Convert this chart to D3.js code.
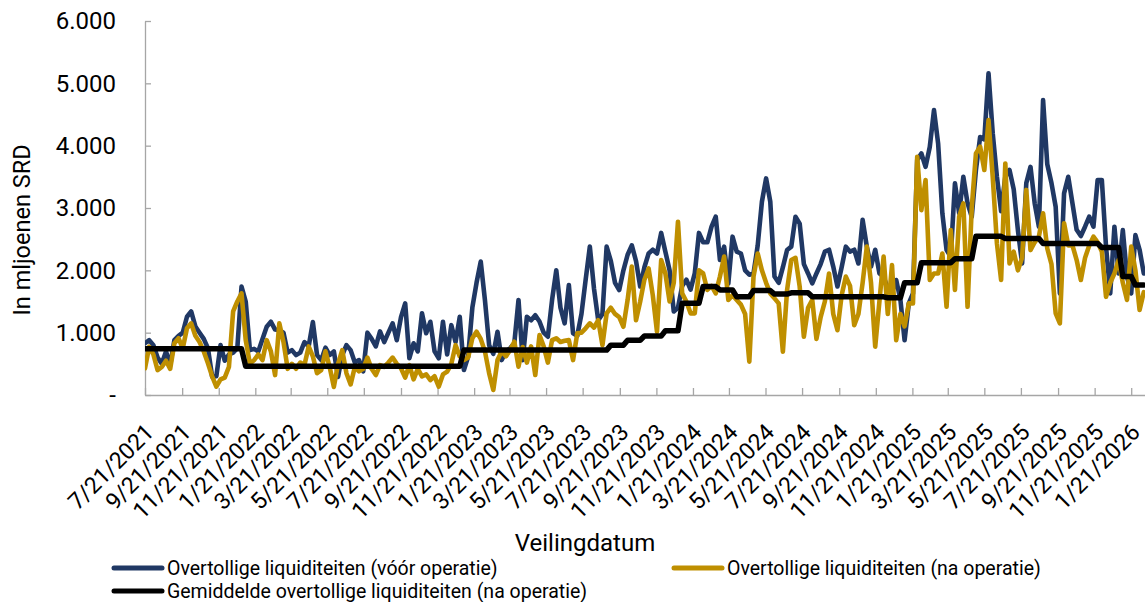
<!DOCTYPE html>
<html>
<head>
<meta charset="utf-8">
<script src="https://cdn.jsdelivr.net/npm/d3@7"></script>
<style>
  body { margin: 0; background: #fff; }
  text { font-family: Roboto, "Noto Sans", sans-serif; fill: #000; }
</style>
</head>
<body>
<div id="chart"></div>
<script>
// auctions are weekly, starting on the first auction date
var firstAuction = "2021-07-21";

// Overtollige liquiditeiten (voor operatie), mln SRD, one value per weekly auction
var before = [
  830, 880, 800, 600, 500, 700, 480, 880, 950, 1000, 1255, 1340, 1100, 1000, 900, 750, 295, 300, 800, 550,
  650, 680, 750, 1740, 1500, 720, 740, 700, 900, 1095, 1175, 1050, 1040, 1000, 680, 720, 640, 680, 850, 780,
  1170, 640, 560, 760, 640, 700, 290, 640, 800, 720, 520, 560, 380, 1000, 900, 780, 1020, 850, 1000, 1150,
  880, 1250, 1470, 590, 830, 700, 1310, 990, 1175, 700, 590, 1175, 650, 1120, 850, 1255, 400, 615, 1400, 1800,
  2140, 1525, 800, 660, 1015, 560, 700, 750, 830, 1525, 560, 1255, 1200, 1280, 1180, 1000, 935, 1525, 2000, 1400,
  1150, 1765, 990, 950, 1300, 1850, 2380, 1700, 1200, 1300, 2380, 2150, 1800, 1685, 2000, 2250, 2400, 2150, 1740, 2050,
  2270, 2330, 2270, 2600, 2300, 2000, 1340, 1400, 1750, 1850, 1690, 1950, 2600, 2450, 2450, 2700, 2860, 2165, 2380, 1790,
  2540, 2300, 2270, 2000, 1930, 1950, 2400, 3100, 3475, 3100, 1900, 1800, 2050, 2325, 2380, 2860, 2750, 2100, 1950, 1790,
  1950, 2100, 2300, 2330, 2060, 1740, 2050, 2380, 2300, 2330, 2110, 2810, 2380, 2060, 2330, 1950, 1900, 1700, 1650, 1845,
  1530, 880, 1470, 1630, 3770, 3875, 3660, 3980, 4570, 4030, 2915, 2325, 2220, 3395, 2915, 3500, 3080, 2860, 3610, 4140,
  4100, 5160, 4200, 3500, 2950, 3500, 3610, 3300, 2645, 2110, 3400, 3660, 3075, 2700, 4730, 3700, 3400, 3020, 1630, 3235,
  3500, 3075, 2650, 2550, 2700, 2860, 2700, 3450, 3450, 2380, 1630, 2700, 1950, 2645, 1900, 1630, 2565, 2330, 1950
];

// Overtollige liquiditeiten (na operatie)
var after = [
  430, 775, 650, 400, 450, 550, 420, 830, 910, 750, 1070, 1150, 950, 850, 700, 510, 300, 135, 250, 280,
  450, 1340, 1500, 1630, 880, 500, 560, 650, 560, 880, 700, 320, 1150, 850, 420, 500, 420, 520, 480, 780,
  620, 350, 400, 700, 450, 130, 500, 720, 350, 170, 450, 380, 420, 600, 420, 320, 480, 450, 520, 600,
  500, 430, 280, 480, 250, 420, 300, 330, 240, 300, 135, 330, 375, 500, 800, 620, 560, 600, 910, 1015,
  900, 700, 350, 80, 560, 700, 620, 720, 855, 455, 770, 520, 780, 320, 960, 780, 520, 880, 910, 850,
  870, 880, 560, 990, 1000, 1070, 1150, 1080, 1200, 800, 1310, 1400, 1300, 1250, 1095, 1525, 2060, 1200, 1500, 1850,
  2030, 1600, 1015, 2165, 1950, 1500, 1800, 2780, 1630, 1500, 1310, 1310, 2000, 1950, 1685, 1750, 1630, 1900, 2220, 1525,
  1600, 1525, 1450, 1300, 535, 1900, 2270, 2000, 1800, 1630, 1550, 1470, 695, 1685, 2165, 2200, 1740, 935, 1400, 1525,
  900, 1250, 1500, 1950, 1300, 1040, 1600, 1900, 1750, 1120, 1300, 1800, 2380, 1800, 775, 1500, 2220, 1300, 2085, 880,
  1300, 1100, 1470, 1470, 3820, 2965, 3450, 1845, 1950, 1950, 2270, 1415, 2645, 1685, 2860, 3075, 1415, 3000, 3875, 3985,
  3610, 4410, 3500, 2435, 1845, 3715, 2110, 2300, 2000, 2200, 3290, 2325, 2450, 2540, 2915, 2350, 2100, 1310, 1150, 2755,
  2400, 2400, 2165, 1845, 2200, 2400, 2540, 2450, 2300, 1575, 1800, 1950, 2165, 1800, 1525, 2380, 2000, 1365, 1650
];

// Gemiddelde overtollige liquiditeiten (na operatie): level and the auction number where it starts
var avgStart = [0, 24, 76, 111, 115, 119, 124, 128, 133, 137, 141, 145, 150, 154, 159, 177, 181, 185, 193, 198, 205, 214, 228, 233, 236];
var avgLevel = [740, 460, 720, 800, 880, 945, 1030, 1470, 1740, 1685, 1575, 1675, 1620, 1640, 1575, 1560, 1800, 2120, 2185, 2545, 2510, 2430, 2365, 1900, 1765];

var tickLabels = ["7/21/2021", "9/21/2021", "11/21/2021", "1/21/2022", "3/21/2022", "5/21/2022", "7/21/2022",
  "9/21/2022", "11/21/2022", "1/21/2023", "3/21/2023", "5/21/2023", "7/21/2023", "9/21/2023", "11/21/2023",
  "1/21/2024", "3/21/2024", "5/21/2024", "7/21/2024", "9/21/2024", "11/21/2024", "1/21/2025", "3/21/2025",
  "5/21/2025", "7/21/2025", "9/21/2025", "11/21/2025", "1/21/2026"];
var yTicks = [0, 1000, 2000, 3000, 4000, 5000, 6000];

var seriesNames = ["Overtollige liquiditeiten (vóór operatie)", "Overtollige liquiditeiten (na operatie)",
  "Gemiddelde overtollige liquiditeiten (na operatie)"];
var seriesColors = ["#203864", "#bf8f00", "#000000"];

// ---------------------------------------------------------------
var parseIso = d3.timeParse("%Y-%m-%d");
var parseLabel = d3.timeParse("%m/%d/%Y");
var start = parseIso(firstAuction);

var rows = before.map(function (v, i) {
  var lvl = avgLevel[0];
  for (var k = 0; k < avgStart.length; k++) { if (i >= avgStart[k]) lvl = avgLevel[k]; }
  return { date: d3.timeDay.offset(start, 7 * i), before: v, after: after[i], avg: lvl };
});

var chart_w = 1145, chart_h = 602;
var plot_l = 145, plot_r = 1145, plot_t = 21, plot_b = 395;

var svg = d3.select("#chart").append("svg").attr("width", chart_w).attr("height", chart_h);

var x = d3.scaleTime().domain([start, parseIso("2026-02-13")]).range([plot_l, plot_r]);
var y = d3.scaleLinear().domain([0, 6000]).range([plot_b, plot_t]);

var nl = d3.formatLocale({ decimal: ",", thousands: ".", grouping: [3], currency: ["", ""] });
var fmt = nl.format(",.0f");

// y axis
var yAxis = svg.append("g").attr("transform", "translate(" + plot_l + ",0)")
  .call(d3.axisLeft(y).tickValues(yTicks).tickSizeInner(-6).tickSizeOuter(0).tickPadding(29)
    .tickFormat(function (d) { return d === 0 ? "-" : fmt(d); }));
yAxis.selectAll("path, line").attr("stroke", "#a6a6a6").attr("stroke-width", 1.3);
yAxis.selectAll("text").style("font-size", "24px").style("font-family", "Roboto").attr("fill", "#000");

// x axis
var xAxis = svg.append("g").attr("transform", "translate(0," + plot_b + ")")
  .call(d3.axisBottom(x).tickValues(tickLabels.map(function (s) { return parseLabel(s); }))
    .tickSizeInner(-7).tickSizeOuter(0).tickFormat(d3.timeFormat("%-m/%-d/%Y")));
xAxis.selectAll("path, line").attr("stroke", "#a6a6a6").attr("stroke-width", 1.3);
xAxis.selectAll("text").style("font-size", "23px").style("font-family", "Roboto").attr("fill", "#000")
  .attr("x", 0).attr("y", 0).attr("dy", "0.35em").style("text-anchor", "end")
  .attr("transform", "translate(4,33) rotate(-45)");

svg.append("text").attr("x", 22).attr("y", 230).attr("text-anchor", "middle")
  .attr("transform", "rotate(-90,22,230)").attr("dy", "0.35em")
  .style("font-size", "23.5px").text("In mljoenen SRD");

svg.append("text").attr("x", 585).attr("y", 551).attr("text-anchor", "middle")
  .style("font-size", "24px").text("Veilingdatum");

// lines
svg.append("clipPath").attr("id", "plotclip").append("rect")
  .attr("x", plot_l).attr("y", 0).attr("width", plot_r - plot_l).attr("height", plot_b + 5);
var plot = svg.append("g").attr("clip-path", "url(#plotclip)");

var keys = ["before", "after", "avg"];
var widths = [4.6, 4.6, 5.5];
keys.forEach(function (key, k) {
  var line = d3.line().x(function (d) { return x(d.date); }).y(function (d) { return y(d[key]); });
  plot.append("path").datum(rows).attr("d", line).attr("fill", "none")
    .attr("stroke", seriesColors[k]).attr("stroke-width", widths[k])
    .attr("stroke-linejoin", "round").attr("stroke-linecap", "round");
});

// legend
var legendPos = [[114, 568], [674, 568], [114, 591]];
var legend = svg.selectAll(".legend").data(seriesNames).enter().append("g").attr("class", "legend")
  .attr("transform", function (d, i) { return "translate(" + legendPos[i][0] + "," + legendPos[i][1] + ")"; });
legend.append("line").attr("x1", 0).attr("x2", 48).attr("y1", 0).attr("y2", 0)
  .attr("stroke", function (d, i) { return seriesColors[i]; }).attr("stroke-width", 5).attr("stroke-linecap", "round");
legend.append("text").attr("x", 53).attr("y", 0).attr("dy", "0.35em").style("font-size", "19.5px")
  .text(function (d) { return d; });
</script>
</body>
</html>
